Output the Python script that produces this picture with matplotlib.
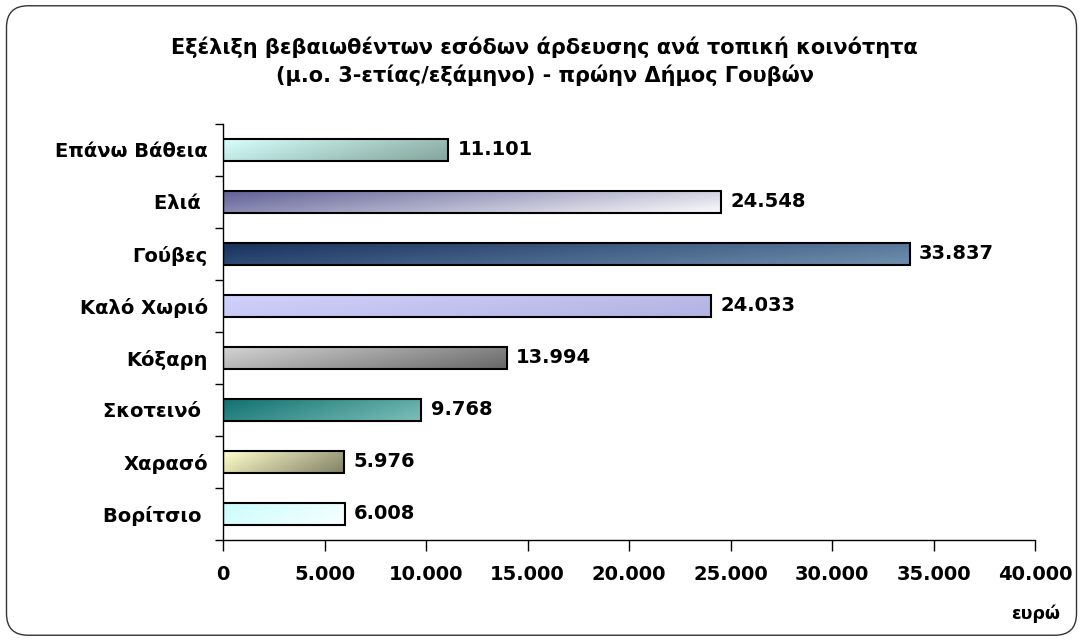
import numpy as np
import matplotlib
matplotlib.use("Agg")
import matplotlib.pyplot as plt
from matplotlib.colors import to_rgb
from matplotlib.patches import FancyBboxPatch
from matplotlib.ticker import FuncFormatter, FixedLocator

categories = ["Επάνω Βάθεια", "Ελιά ", "Γούβες", "Καλό Χωριό", "Κόξαρη", "Σκοτεινό ", "Χαρασό", "Βορίτσιο "]
values = [11101, 24548, 33837, 24033, 13994, 9768, 5976, 6008]
value_labels = ["11.101", "24.548", "33.837", "24.033", "13.994", "9.768", "5.976", "6.008"]
xticks = [0, 5000, 10000, 15000, 20000, 25000, 30000, 35000, 40000]
title = "Εξέλιξη βεβαιωθέντων εσόδων άρδευσης ανά τοπική κοινότητα\n(μ.ο. 3-ετίας/εξάμηνο) - πρώην Δήμος Γουβών"
xlabel = "ευρώ"

# gradient colour pairs (start at left/top, end at right/bottom)
grad_colors = [
    ("#d4fcfa", "#86a89e"),
    ("#66669a", "#f4f4f8"),
    ("#1a3460", "#6c8cac"),
    ("#d0d0fc", "#b4b4e4"),
    ("#d0d0d0", "#6c6c6c"),
    ("#137472", "#78bcb6"),
    ("#fcfcc8", "#86866c"),
    ("#ccfcfc", "#f6ffff"),
]

plt.rcParams['font.family'] = ['DejaVu Sans']
fig = plt.figure(figsize=(10.83, 6.41), dpi=100)
ax = fig.add_axes([0.206, 0.1576, 0.7497, 0.649])

y = np.arange(len(categories))
bars = ax.barh(y, values, height=0.43, color="none", edgecolor="black", linewidth=1.5, zorder=3)

def grad_img(c0, c1, n=200):
    a = np.array(to_rgb(c0)); b = np.array(to_rgb(c1))
    xs = np.linspace(0, 1, n)[None, :]
    ys = np.linspace(0, 1, 20)[:, None]
    t = np.clip(0.8 * xs + 0.3 * ys - 0.05, 0, 1)
    return a[None, None, :] * (1 - t[..., None]) + b[None, None, :] * t[..., None]

for bar, (c0, c1) in zip(bars, grad_colors):
    x0, y0 = bar.get_x(), bar.get_y()
    w, h = bar.get_width(), bar.get_height()
    im = ax.imshow(grad_img(c0, c1), extent=[x0, x0 + w, y0 + h, y0], aspect="auto",
                   interpolation="bilinear", zorder=2)
    im.set_clip_path(bar)

for bar, lab in zip(bars, value_labels):
    ax.text(bar.get_width() + 450, bar.get_y() + bar.get_height() / 2, lab,
            va="center", ha="left", fontsize=14, fontweight="bold", zorder=4)

ax.set_xlim(0, 40000)
ax.set_ylim(len(categories) - 0.5, -0.5)
ax.set_xticks(xticks)
ax.xaxis.set_major_formatter(FuncFormatter(lambda v, p: f"{int(v):,}".replace(",", ".")))
ax.set_yticks(y)
ax.set_yticklabels(categories)
ax.yaxis.set_minor_locator(FixedLocator(np.arange(-0.5, len(categories), 1.0)))
ax.tick_params(axis="y", which="major", length=0, pad=11, labelsize=14)
ax.tick_params(axis="y", which="minor", length=6, width=1, direction="out")
ax.tick_params(axis="x", which="major", length=8, width=1, direction="out", pad=10, labelsize=14)
for t in ax.get_xticklabels() + ax.get_yticklabels():
    t.set_fontweight("bold")
for s in ["top", "right"]:
    ax.spines[s].set_visible(False)
for s in ["left", "bottom"]:
    ax.spines[s].set_linewidth(1)
ax.set_facecolor("none")

fig.text(0.503, 0.904, title, ha="center", va="center", fontsize=15, fontweight="bold",
         linespacing=1.35)
fig.text(0.979, 0.043, xlabel, ha="right", va="center", fontsize=12.5, fontweight="bold")

frame = FancyBboxPatch((0.006, 0.009), 0.988, 0.982, boxstyle="round,pad=0,rounding_size=0.02",
                       transform=fig.transFigure, facecolor="none", edgecolor="#333333",
                       linewidth=1.0, mutation_aspect=1083 / 641)
fig.patches.append(frame)

fig.savefig("out.png", dpi=100)
